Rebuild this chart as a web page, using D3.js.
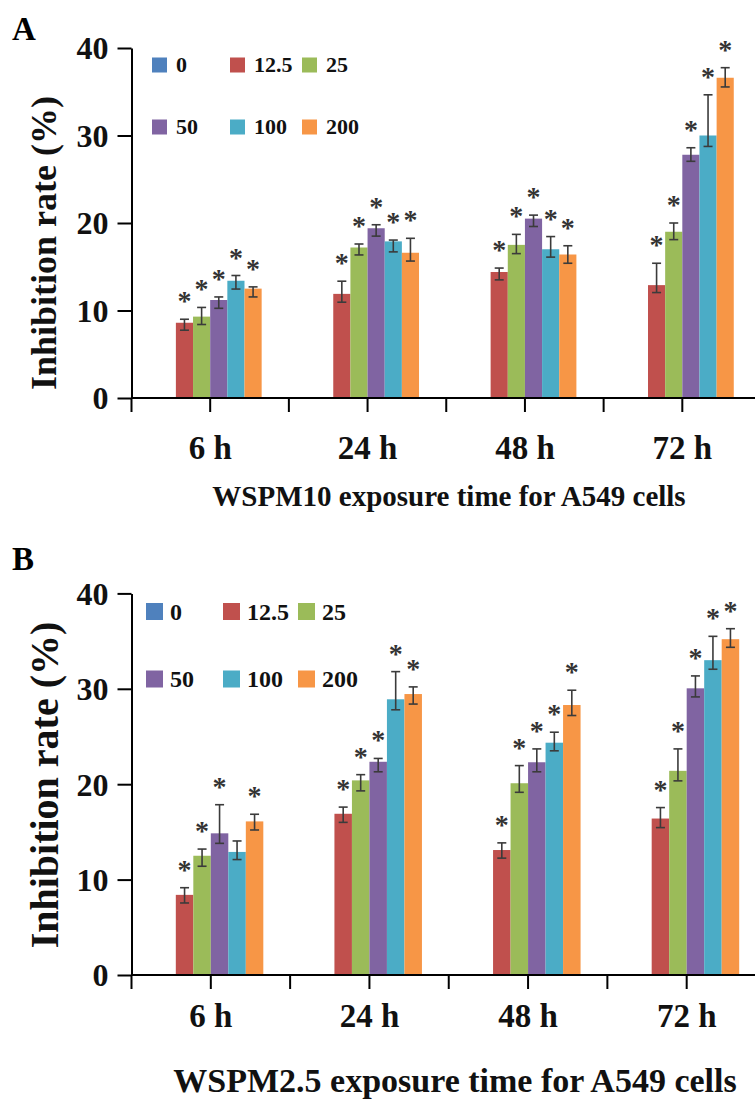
<!DOCTYPE html>
<html>
<head>
<meta charset="utf-8">
<script src="https://cdn.jsdelivr.net/npm/d3@7/dist/d3.min.js"></script>
<style>
  html, body { margin: 0; padding: 0; background: #fff; }
  svg { display: block; }
  text { font-family: "Liberation Serif", "Times New Roman", serif; font-weight: bold; }
</style>
</head>
<body>
<svg id="fig" width="755" height="1106"></svg>
<script>
// Exposure times and WSPM doses (µg/mL)
const times = ["6 h", "24 h", "48 h", "72 h"];
const doses = ["0", "12.5", "25", "50", "100", "200"];
const doseColors = ["#4f81bd", "#c0504d", "#9bbb59", "#8064a2", "#4bacc6", "#f79646"];
const yTicks = [0, 10, 20, 30, 40];

// Panel A: WSPM10 — inhibition rate (%) per time (rows) and dose (columns)
const pm10Rate = [
  [0, 8.6, 9.3, 11.2, 13.4, 12.5],
  [0, 11.9, 17.2, 19.4, 17.9, 16.6],
  [0, 14.4, 17.5, 20.5, 17.0, 16.4],
  [0, 12.9, 19.0, 27.8, 30.0, 36.6]
];
const pm10ErrUp = [
  [0, 0.4, 1.05, 0.35, 0.6, 0.2],
  [0, 1.45, 0.4, 0.4, 0.15, 1.65],
  [0, 0.45, 1.2, 0.4, 1.45, 1.0],
  [0, 2.5, 1.0, 0.8, 4.65, 1.15]
];
const pm10ErrDown = [
  [0, 0.85, 0.9, 0.95, 0.95, 0.95],
  [0, 0.95, 0.85, 0.9, 1.2, 0.95],
  [0, 0.9, 1.0, 0.9, 0.9, 1.0],
  [0, 0.85, 0.9, 0.75, 1.25, 1.05]
];
const pm10Signif = [
  [0, 1, 1, 1, 1, 1],
  [0, 1, 1, 1, 1, 1],
  [0, 1, 1, 1, 1, 1],
  [0, 1, 1, 1, 1, 1]
];

// Panel B: WSPM2.5
const pm25Rate = [
  [0, 8.4, 12.5, 14.85, 12.9, 16.1],
  [0, 16.9, 20.4, 22.35, 28.9, 29.45],
  [0, 13.1, 20.1, 22.3, 24.35, 28.3],
  [0, 16.4, 21.4, 30.05, 33.0, 35.2]
];
const pm25ErrUp = [
  [0, 0.75, 0.7, 3.0, 1.15, 0.75],
  [0, 0.7, 0.6, 0.35, 2.9, 0.75],
  [0, 0.75, 1.85, 1.4, 1.1, 1.55],
  [0, 1.15, 2.3, 1.3, 2.5, 1.1]
];
const pm25ErrDown = [
  [0, 0.85, 1.1, 1.05, 0.8, 0.9],
  [0, 0.9, 1.1, 1.05, 1.1, 1.05],
  [0, 0.85, 0.95, 1.0, 0.85, 1.1],
  [0, 0.95, 1.05, 0.9, 0.95, 0.85]
];
const pm25Signif = [
  [0, 1, 1, 1, 0, 1],
  [0, 1, 1, 1, 1, 1],
  [0, 1, 1, 1, 1, 1],
  [0, 1, 1, 1, 1, 1]
];

const panels = [
  {
    letter: "A", letterX: 12, letterY: 40, letterSize: 33,
    top: 48, bottom: 398, left: 131.5, right: 761, padInner: 0.346,
    tickSize: 32, catSize: 33, catBaseline: 459,
    ylabel: "Inhibition rate (%)", ylabelX: 44, ylabelY: 243, ylabelSize: 36,
    title: "WSPM10 exposure time for A549 cells", titleX: 449, titleY: 506, titleSize: 29,
    legend: { cols: [152, 230, 302], rows: [65, 127], sq: 15, gap: 9, size: 22 },
    rate: pm10Rate, errUp: pm10ErrUp, errDown: pm10ErrDown, signif: pm10Signif
  },
  {
    letter: "B", letterX: 12, letterY: 570, letterSize: 33,
    top: 593.4, bottom: 975, left: 131.5, right: 766, padInner: 0.338,
    tickSize: 32, catSize: 33, catBaseline: 1027,
    ylabel: "Inhibition rate (%)", ylabelX: 44, ylabelY: 785, ylabelSize: 40,
    title: "WSPM2.5 exposure time for A549 cells", titleX: 455, titleY: 1092, titleSize: 34,
    legend: { cols: [146, 223, 298], rows: [611.5, 679], sq: 17, gap: 7, size: 24 },
    rate: pm25Rate, errUp: pm25ErrUp, errDown: pm25ErrDown, signif: pm25Signif
  }
];

const svg = d3.select("#fig");
svg.append("rect").attr("width", 755).attr("height", 1106).attr("fill", "#fff");

function drawPanel(p) {
  const g = svg.append("g");

  const y = d3.scaleLinear().domain([0, 40]).range([p.bottom, p.top]);
  const x0 = d3.scaleBand().domain(times).range([p.left, p.right])
    .paddingInner(p.padInner).paddingOuter(p.padInner / 2);
  const x1 = d3.scaleBand().domain(doses).range([0, x0.bandwidth()]);

  // panel letter
  g.append("text").attr("x", p.letterX).attr("y", p.letterY)
    .attr("font-size", p.letterSize).text(p.letter);

  // bars
  const groups = g.selectAll("g.time").data(times).join("g")
    .attr("class", "time")
    .attr("transform", t => `translate(${x0(t)},0)`);

  const cells = (t, ti) => doses.map((d, di) => ({
    dose: d, di,
    v: p.rate[ti][di],
    up: p.errUp[ti][di],
    down: p.errDown[ti][di],
    sig: p.signif[ti][di]
  }));

  groups.each(function (t, ti) {
    const gg = d3.select(this);
    const data = cells(t, ti);

    gg.selectAll("rect").data(data).join("rect")
      .attr("x", d => x1(d.dose))
      .attr("y", d => y(d.v))
      .attr("width", x1.bandwidth())
      .attr("height", d => y(0) - y(d.v))
      .attr("fill", d => doseColors[d.di]);

    const withErr = data.filter(d => d.v > 0);
    const cx = d => x1(d.dose) + x1.bandwidth() / 2;
    const eb = gg.selectAll("g.err").data(withErr).join("g").attr("class", "err")
      .attr("stroke", "#3b3b3b").attr("stroke-width", 1.6).attr("fill", "none");
    eb.append("line").attr("x1", cx).attr("x2", cx)
      .attr("y1", d => y(d.v + d.up)).attr("y2", d => y(d.v - d.down));
    eb.append("line").attr("x1", d => cx(d) - 4.5).attr("x2", d => cx(d) + 4.5)
      .attr("y1", d => y(d.v + d.up)).attr("y2", d => y(d.v + d.up));
    eb.append("line").attr("x1", d => cx(d) - 4.5).attr("x2", d => cx(d) + 4.5)
      .attr("y1", d => y(d.v - d.down)).attr("y2", d => y(d.v - d.down));

    // significance markers
    gg.selectAll("text.star").data(data.filter(d => d.sig)).join("text")
      .attr("class", "star")
      .attr("x", cx)
      .attr("y", d => y(d.v + d.up) - 9)
      .attr("text-anchor", "middle")
      .attr("font-size", 28)
      .attr("fill", "#333")
      .text("*");
  });

  // y axis
  const yAxis = d3.axisLeft(y).tickValues(yTicks).tickFormat(d3.format("d"))
    .tickSize(14).tickSizeOuter(0).tickPadding(9);
  const ya = g.append("g").attr("transform", `translate(${p.left},0)`).call(yAxis);
  ya.select(".domain").attr("stroke", "#000").attr("stroke-width", 2);
  ya.selectAll(".tick line").attr("stroke", "#000").attr("stroke-width", 2);
  ya.selectAll(".tick text").attr("font-size", p.tickSize)
    .attr("font-family", "Liberation Serif, Times New Roman, serif")
    .attr("font-weight", "bold").attr("fill", "#111").attr("dy", "0.34em");

  // x axis: baseline, ticks at group centres and boundaries
  const xa = g.append("g").attr("transform", `translate(0,${p.bottom})`)
    .call(d3.axisBottom(x0).tickSize(14).tickSizeOuter(0));
  xa.select(".domain").attr("stroke", "#000").attr("stroke-width", 2)
    .attr("d", `M${p.left},0H${p.right}`);
  xa.selectAll(".tick line").attr("stroke", "#000").attr("stroke-width", 2);
  xa.selectAll(".tick text")
    .attr("font-size", p.catSize)
    .attr("font-family", "Liberation Serif, Times New Roman, serif")
    .attr("font-weight", "bold").attr("fill", "#111")
    .attr("y", p.catBaseline - p.bottom).attr("dy", 0);

  const bounds = d3.range(times.length + 1).map(i => x0.range()[0] + i * x0.step());
  g.append("g").selectAll("line").data(bounds).join("line")
    .attr("x1", d => d).attr("x2", d => d)
    .attr("y1", p.bottom).attr("y2", p.bottom + 14)
    .attr("stroke", "#000").attr("stroke-width", 2);

  // axis titles
  g.append("text")
    .attr("transform", `translate(${p.ylabelX},${p.ylabelY}) rotate(-90)`)
    .attr("text-anchor", "middle").attr("dominant-baseline", "central")
    .attr("font-size", p.ylabelSize).attr("fill", "#111").text(p.ylabel);

  g.append("text").attr("x", p.titleX).attr("y", p.titleY)
    .attr("text-anchor", "middle").attr("font-size", p.titleSize)
    .attr("fill", "#111").text(p.title);

  // legend: two rows of three doses
  const L = p.legend;
  const items = g.append("g").selectAll("g").data(doses).join("g")
    .attr("transform", (d, i) => `translate(${L.cols[i % 3]},${L.rows[Math.floor(i / 3)]})`);
  items.append("rect").attr("x", 0).attr("y", -L.sq / 2)
    .attr("width", L.sq).attr("height", L.sq)
    .attr("fill", (d, i) => doseColors[i]);
  items.append("text").attr("x", L.sq + L.gap).attr("y", 0)
    .attr("dy", "0.34em").attr("font-size", L.size).attr("fill", "#111")
    .text(d => d);
}

panels.forEach(drawPanel);
</script>
</body>
</html>
